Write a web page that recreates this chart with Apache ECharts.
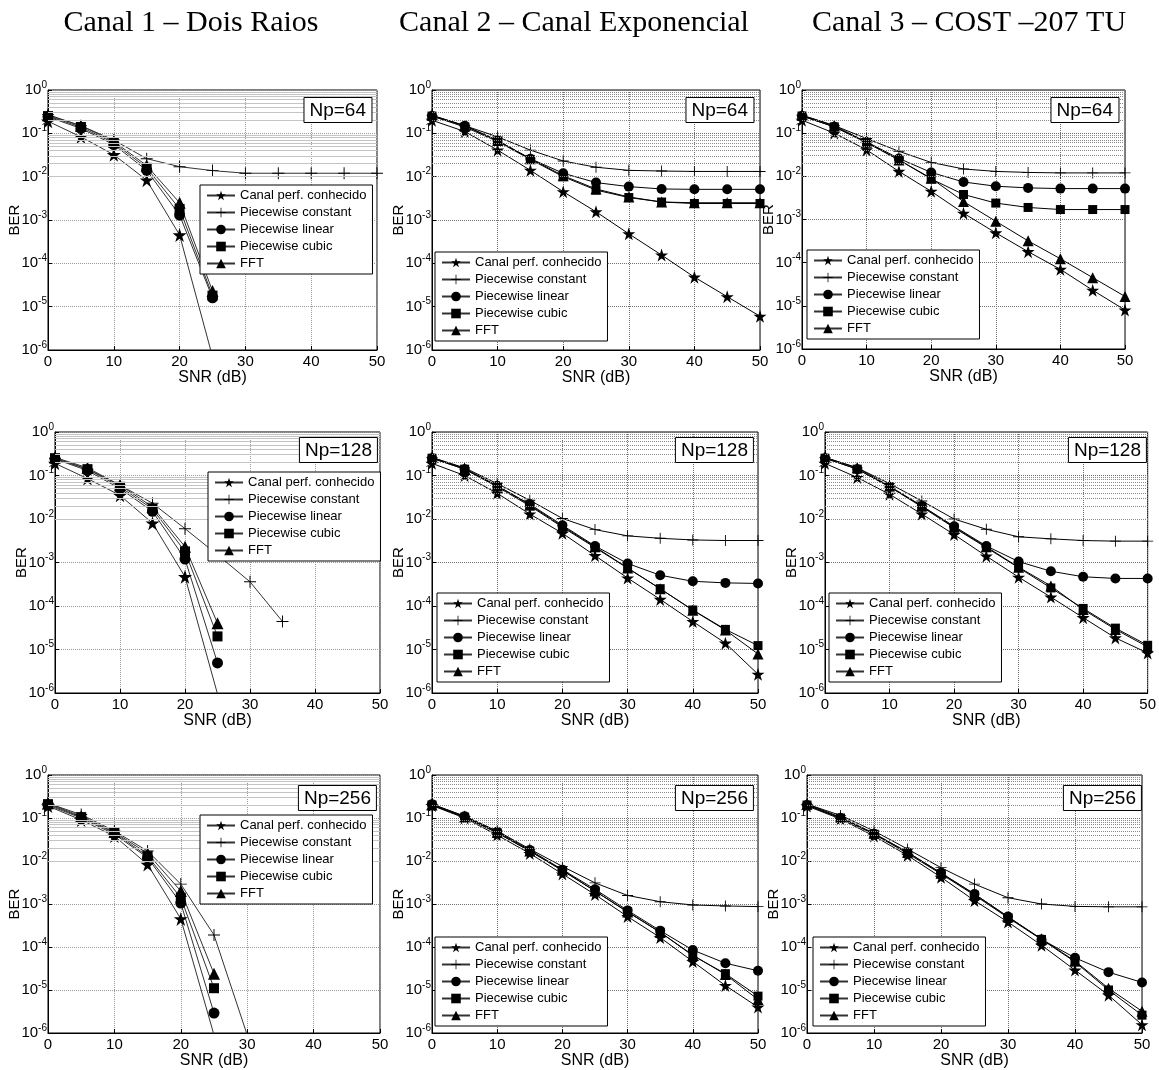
<!DOCTYPE html>
<html>
<head>
<meta charset="utf-8">
<script src="https://cdn.jsdelivr.net/npm/echarts@6/dist/echarts.min.js"></script>
<style>
  html, body { margin: 0; padding: 0; background: #fff; }
  #chart { width: 1159px; height: 1070px; }
</style>
</head>
<body>
<div id="chart"></div>
<script>
// SNR axis (dB)
const SNR = [0, 5, 10, 15, 20, 25, 30, 35, 40, 45, 50];

// Column titles and pilot counts
const CANAIS = ['Canal 1 \u2013 Dois Raios', 'Canal 2 \u2013 Canal Exponencial', 'Canal 3 \u2013 COST \u2013207 TU'];
const NP = ['Np=64', 'Np=128', 'Np=256'];
const SERIES_NAMES = ['Canal perf. conhecido', 'Piecewise constant', 'Piecewise linear', 'Piecewise cubic', 'FFT'];

// BER curves — Canal 1, Np=64
const c1_64_perf  = [0.19, 0.083, 0.032, 0.0083, 4.5e-4, 7e-7];
const c1_64_const = [0.27, 0.15, 0.07, 0.026, 0.017, 0.0138, 0.012, 0.012, 0.012, 0.012, 0.012];
const c1_64_lin   = [0.24, 0.13, 0.055, 0.014, 1.3e-3, 1.6e-5];
const c1_64_cub   = [0.25, 0.14, 0.06, 0.016, 1.8e-3, 1.8e-5];
const c1_64_fft   = [0.26, 0.15, 0.065, 0.018, 2.5e-3, 2.3e-5];

// Canal 2, Np=64
const c2_64_perf  = [0.2, 0.11, 0.041, 0.014, 4.5e-3, 1.55e-3, 4.8e-4, 1.55e-4, 4.8e-5, 1.7e-5, 6e-6];
const c2_64_const = [0.26, 0.15, 0.083, 0.041, 0.023, 0.0165, 0.014, 0.0135, 0.0132, 0.0132, 0.0132];
const c2_64_lin   = [0.25, 0.15, 0.068, 0.026, 0.012, 7.3e-3, 5.9e-3, 5.2e-3, 5.1e-3, 5.1e-3, 5.1e-3];
const c2_64_cub   = [0.25, 0.14, 0.065, 0.025, 0.01, 4.9e-3, 3.3e-3, 2.6e-3, 2.4e-3, 2.4e-3, 2.4e-3];
const c2_64_fft   = [0.26, 0.15, 0.068, 0.026, 0.0105, 5.2e-3, 3.4e-3, 2.6e-3, 2.5e-3, 2.5e-3, 2.5e-3];

// Canal 3, Np=64
const c3_64_perf  = [0.2, 0.1, 0.041, 0.013, 4.5e-3, 1.4e-3, 4.9e-4, 1.8e-4, 7e-5, 2.3e-5, 8e-6];
const c3_64_const = [0.26, 0.15, 0.075, 0.038, 0.021, 0.0148, 0.013, 0.0123, 0.012, 0.012, 0.012];
const c3_64_lin   = [0.25, 0.14, 0.063, 0.026, 0.0123, 7.4e-3, 5.9e-3, 5.4e-3, 5.2e-3, 5.2e-3, 5.2e-3];
const c3_64_cub   = [0.25, 0.14, 0.06, 0.024, 8.7e-3, 3.8e-3, 2.4e-3, 1.9e-3, 1.7e-3, 1.7e-3, 1.7e-3];
const c3_64_fft   = [0.26, 0.15, 0.062, 0.024, 9e-3, 2.6e-3, 9.1e-4, 3.2e-4, 1.23e-4, 4.5e-5, 1.65e-5];

// Canal 1, Np=128
const c1_128_perf  = [0.19, 0.085, 0.035, 8e-3, 4.7e-4, 9.5e-7];
const c1_128_const = [0.25, 0.14, 0.06, 0.023, 6e-3, 1.5e-3, 3.6e-4, 4.4e-5];
const c1_128_lin   = [0.24, 0.13, 0.05, 0.015, 1.2e-3, 4.9e-6];
const c1_128_cub   = [0.25, 0.14, 0.055, 0.017, 1.8e-3, 2e-5];
const c1_128_fft   = [0.26, 0.15, 0.06, 0.019, 2.3e-3, 4e-5];

// Canal 2, Np=128
const c2_128_perf  = [0.19, 0.1, 0.039, 0.013, 4.7e-3, 1.44e-3, 4.4e-4, 1.42e-4, 4.4e-5, 1.4e-5, 2.7e-6];
const c2_128_const = [0.26, 0.15, 0.065, 0.027, 0.0103, 5.7e-3, 4.1e-3, 3.6e-3, 3.3e-3, 3.2e-3, 3.2e-3];
const c2_128_lin   = [0.25, 0.14, 0.058, 0.022, 7.2e-3, 2.4e-3, 9.5e-4, 5.1e-4, 3.7e-4, 3.4e-4, 3.3e-4];
const c2_128_cub   = [0.25, 0.14, 0.055, 0.02, 6.5e-3, 2.2e-3, 7.4e-4, 2.5e-4, 8.1e-5, 2.9e-5, 1.23e-5];
const c2_128_fft   = [0.26, 0.145, 0.058, 0.021, 6.8e-3, 2.3e-3, 7.5e-4, 2.5e-4, 8e-5, 2.8e-5, 7.9e-6];

// Canal 3, Np=128
const c3_128_perf  = [0.19, 0.09, 0.037, 0.013, 4.4e-3, 1.4e-3, 4.6e-4, 1.6e-4, 5.4e-5, 1.85e-5, 8.3e-6];
const c3_128_const = [0.26, 0.15, 0.065, 0.026, 0.01, 5.8e-3, 3.9e-3, 3.5e-3, 3.2e-3, 3.1e-3, 3.1e-3];
const c3_128_lin   = [0.25, 0.14, 0.055, 0.02, 6.8e-3, 2.4e-3, 1.05e-3, 6.3e-4, 4.7e-4, 4.3e-4, 4.3e-4];
const c3_128_cub   = [0.25, 0.14, 0.055, 0.019, 6.3e-3, 2.2e-3, 7.6e-4, 2.6e-4, 8.8e-5, 3.1e-5, 1.25e-5];
const c3_128_fft   = [0.26, 0.15, 0.057, 0.02, 6.5e-3, 2.3e-3, 7.8e-4, 2.9e-4, 8.3e-5, 2.9e-5, 1.15e-5];

// Canal 1, Np=256
const c1_256_perf  = [0.19, 0.09, 0.038, 8.3e-3, 4.5e-4, 9e-7];
const c1_256_const = [0.22, 0.12, 0.05, 0.017, 2.9e-3, 1.9e-4, 9e-7];
const c1_256_lin   = [0.2, 0.1, 0.042, 0.012, 1.05e-3, 2.9e-6];
const c1_256_cub   = [0.21, 0.105, 0.045, 0.013, 1.4e-3, 1.1e-5];
const c1_256_fft   = [0.22, 0.11, 0.047, 0.015, 2e-3, 2.4e-5];

// Canal 2, Np=256
const c2_256_perf  = [0.195, 0.1, 0.04, 0.015, 5e-3, 1.66e-3, 5.1e-4, 1.66e-4, 4.6e-5, 1.27e-5, 4e-6];
const c2_256_const = [0.21, 0.11, 0.05, 0.019, 7.5e-3, 3.1e-3, 1.58e-3, 1.13e-3, 9.5e-4, 9e-4, 8.7e-4];
const c2_256_lin   = [0.21, 0.11, 0.048, 0.018, 6.3e-3, 2.2e-3, 7.1e-4, 2.4e-4, 8.5e-5, 4.2e-5, 2.8e-5];
const c2_256_cub   = [0.2, 0.105, 0.045, 0.017, 6e-3, 2e-3, 6.6e-4, 2.2e-4, 6.3e-5, 2.4e-5, 7.2e-6];
const c2_256_fft   = [0.2, 0.105, 0.046, 0.017, 6.1e-3, 2e-3, 6.5e-4, 2.2e-4, 6.5e-5, 2.3e-5, 6e-6];

// Canal 3, Np=256
const c3_256_perf  = [0.19, 0.095, 0.038, 0.0135, 4.2e-3, 1.2e-3, 3.8e-4, 1.1e-4, 2.9e-5, 7.6e-6, 1.55e-6];
const c3_256_const = [0.21, 0.115, 0.05, 0.019, 7e-3, 2.9e-3, 1.4e-3, 1e-3, 8.8e-4, 8.6e-4, 8.6e-4];
const c3_256_lin   = [0.2, 0.1, 0.043, 0.016, 5.3e-3, 1.7e-3, 5.1e-4, 1.5e-4, 5.6e-5, 2.6e-5, 1.5e-5];
const c3_256_cub   = [0.2, 0.1, 0.042, 0.015, 5e-3, 1.6e-3, 4.8e-4, 1.5e-4, 4.5e-5, 1e-5, 2.6e-6];
const c3_256_fft   = [0.21, 0.105, 0.044, 0.016, 5.2e-3, 1.7e-3, 5e-4, 1.55e-4, 4.7e-5, 1.1e-5, 3.2e-6];

// Panels in reading order: row = Np, column = canal
const PANEL_DATA = [
  [c1_64_perf, c1_64_const, c1_64_lin, c1_64_cub, c1_64_fft],
  [c2_64_perf, c2_64_const, c2_64_lin, c2_64_cub, c2_64_fft],
  [c3_64_perf, c3_64_const, c3_64_lin, c3_64_cub, c3_64_fft],
  [c1_128_perf, c1_128_const, c1_128_lin, c1_128_cub, c1_128_fft],
  [c2_128_perf, c2_128_const, c2_128_lin, c2_128_cub, c2_128_fft],
  [c3_128_perf, c3_128_const, c3_128_lin, c3_128_cub, c3_128_fft],
  [c1_256_perf, c1_256_const, c1_256_lin, c1_256_cub, c1_256_fft],
  [c2_256_perf, c2_256_const, c2_256_lin, c2_256_cub, c2_256_fft],
  [c3_256_perf, c3_256_const, c3_256_lin, c3_256_cub, c3_256_fft]
];

// Layout of each panel: plot box, legend box, Np box
const LAYOUT = [
  { l: 48,  t: 90,  w: 329, h: 260, lgL: 200, lgT: 185, npR: 372,  npT: 97 },
  { l: 432, t: 90,  w: 328, h: 260, lgL: 435, lgT: 252, npR: 754,  npT: 97 },
  { l: 802, t: 90,  w: 323, h: 259, lgL: 807, lgT: 250, npR: 1119, npT: 97 },
  { l: 55,  t: 432, w: 325, h: 261, lgL: 208, lgT: 472, npR: 378,  npT: 437 },
  { l: 432, t: 432, w: 326, h: 261, lgL: 437, lgT: 593, npR: 754,  npT: 437 },
  { l: 825, t: 432, w: 323, h: 261, lgL: 829, lgT: 593, npR: 1147, npT: 437 },
  { l: 48,  t: 775, w: 332, h: 260, lgL: 200, lgT: 815, npR: 377,  npT: 785 },
  { l: 432, t: 775, w: 326, h: 260, lgL: 435, lgT: 937, npR: 754,  npT: 785 },
  { l: 807, t: 775, w: 335, h: 260, lgL: 813, lgT: 937, npR: 1142, npT: 785 }
];

const STAR = 'path://M50,0L61.2,34.5L97.6,34.5L68.2,55.9L79.4,90.5L50,69.1L20.6,90.5L31.8,55.9L2.4,34.5L38.8,34.5Z';
const PLUS = 'path://M0,4.6H10V5.4H0Z M4.6,0H5.4V10H4.6Z';
const SYMBOLS = [STAR, PLUS, 'circle', 'rect', 'triangle'];
const SIZES = [13, 11, 10, 9, 11];

const FONT = '"Liberation Sans", Arial, sans-serif';

// Minor grid levels of the log axis (2..9 x 10^k)
const minorLevels = [];
for (let k = -6; k <= -1; k++) {
  for (let m = 2; m <= 9; m++) minorLevels.push({ yAxis: m * Math.pow(10, k) });
}

const grids = [], xAxes = [], yAxes = [], series = [], legends = [], titles = [];

LAYOUT.forEach((p, i) => {
  const col = i % 3;
  const row = Math.floor(i / 3);
  const gridCol = col === 0 ? '#9a9a9a' : '#6f6f6f';
  grids.push({ left: p.l, top: p.t, width: p.w, height: p.h, show: true, borderColor: '#000', borderWidth: 1, backgroundColor: '#fff' });
  xAxes.push({
    type: 'value', gridIndex: i, min: 0, max: 50, interval: 10,
    name: 'SNR (dB)', nameLocation: 'middle', nameGap: 20, nameMoveOverlap: false,
    nameTextStyle: { fontFamily: FONT, fontSize: 16, color: '#000' },
    axisLine: { lineStyle: { color: '#000' } },
    axisTick: { inside: true, length: 4, lineStyle: { color: '#000' } },
    axisLabel: { fontFamily: FONT, fontSize: 15, color: '#000', margin: 4 },
    splitLine: { show: true, lineStyle: { color: gridCol, type: 'dotted' } }
  });
  yAxes.push({
    type: 'log', logBase: 10, gridIndex: i, min: 1e-6, max: 1,
    name: 'BER', nameLocation: 'middle', nameGap: 26, nameMoveOverlap: false,
    nameTextStyle: { fontFamily: FONT, fontSize: 15, color: '#000' },
    axisLine: { lineStyle: { color: '#000' } },
    axisTick: { inside: true, length: 4, lineStyle: { color: '#000' } },
    axisLabel: {
      margin: 1, color: '#000',
      formatter: v => '{b|10}{e|' + Math.round(Math.log10(v)) + '}',
      rich: {
        b: { fontFamily: FONT, fontSize: 15, color: '#000' },
        e: { fontFamily: FONT, fontSize: 10, color: '#000', padding: [0, 0, 10, 0] }
      }
    },
    splitLine: { show: true, lineStyle: { color: gridCol, type: 'dotted' } }
  });

  // minor horizontal grid carried by an empty helper series
  series.push({
    type: 'line', xAxisIndex: i, yAxisIndex: i, data: [], silent: true, z: 1,
    markLine: {
      silent: true, symbol: ['none', 'none'], label: { show: false }, animation: false,
      lineStyle: col === 0
        ? { color: '#c4c4c4', type: 'solid', width: 1 }
        : { color: '#8a8a8a', type: 'dotted', width: 1 },
      emphasis: { disabled: true },
      data: minorLevels
    }
  });

  PANEL_DATA[i].forEach((vals, s) => {
    series.push({
      name: SERIES_NAMES[s], type: 'line', xAxisIndex: i, yAxisIndex: i,
      data: vals.map((v, j) => [SNR[j], v]),
      symbol: SYMBOLS[s], symbolSize: col === 0 ? SIZES[s] + 1 : SIZES[s],
      showAllSymbol: true, clip: true, z: 3,
      itemStyle: { color: '#000' },
      lineStyle: { color: col === 0 ? '#333' : '#000', width: 1 },
      emphasis: { disabled: true }
    });
  });

  legends.push({
    data: SERIES_NAMES, orient: 'vertical', left: p.lgL, top: p.lgT,
    backgroundColor: '#fff', borderColor: '#000', borderWidth: 1,
    padding: [4, 6, 4, 6], itemGap: 4, itemWidth: 28, itemHeight: 12,
    selectedMode: false, z: 6,
    textStyle: { fontFamily: FONT, fontSize: 13, color: '#000' }
  });

  titles.push({
    text: NP[row], right: 1159 - p.npR, top: p.npT,
    backgroundColor: '#fff', borderColor: '#000', borderWidth: 1,
    padding: [4, 6, 3, 6], z: 7,
    textStyle: { fontFamily: FONT, fontSize: 19, fontWeight: 'normal', color: '#000' }
  });
});

// Column headings, centred over each column
const TITLE_X = [191, 574, 969];
const graphics = CANAIS.map((t, c) => ({
  type: 'text', x: TITLE_X[c], y: 8,
  style: {
    text: t, font: '30px "Liberation Serif", "Times New Roman", serif',
    fill: '#000', textAlign: 'center', textVerticalAlign: 'top'
  }
}));

const chart = echarts.init(document.getElementById('chart'), null, { renderer: 'canvas' });
chart.setOption({
  animation: false,
  backgroundColor: '#fff',
  title: titles,
  legend: legends,
  grid: grids,
  xAxis: xAxes,
  yAxis: yAxes,
  graphic: graphics,
  series: series
});
</script>
</body>
</html>
